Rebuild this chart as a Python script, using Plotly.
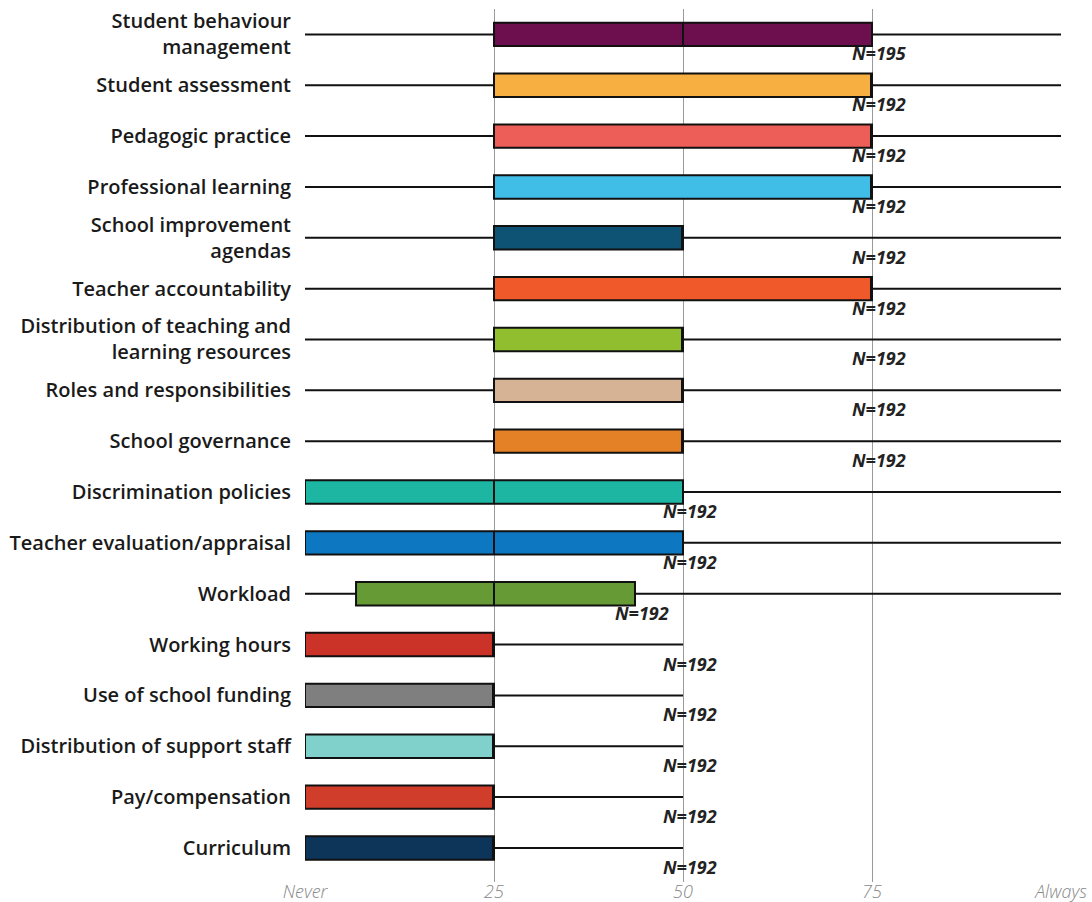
import plotly.graph_objects as go

categories = [
    "Student behaviour<br>management",
    "Student assessment",
    "Pedagogic practice",
    "Professional learning",
    "School improvement<br>agendas",
    "Teacher accountability",
    "Distribution of teaching and<br>learning resources",
    "Roles and responsibilities",
    "School governance",
    "Discrimination policies",
    "Teacher evaluation/appraisal",
    "Workload",
    "Working hours",
    "Use of school funding",
    "Distribution of support staff",
    "Pay/compensation",
    "Curriculum",
]
mins    = [0, 0, 0, 0, 0, 0, 0, 0, 0, 0, 0, 0, 0, 0, 0, 0, 0]
q1s     = [25, 25, 25, 25, 25, 25, 25, 25, 25, 0, 0, 6.75, 0, 0, 0, 0, 0]
medians = [50, 75, 75, 75, 50, 75, 50, 50, 50, 25, 25, 25, 25, 25, 25, 25, 25]
q3s     = [75, 75, 75, 75, 50, 75, 50, 50, 50, 50, 50, 43.65, 25, 25, 25, 25, 25]
maxs    = [100, 100, 100, 100, 100, 100, 100, 100, 100, 100, 100, 100, 50, 50, 50, 50, 50]
n_values = [195, 192, 192, 192, 192, 192, 192, 192, 192, 192, 192, 192, 192, 192, 192, 192, 192]
n_label_at = [75, 75, 75, 75, 75, 75, 75, 75, 75, 50, 50, 43.65, 50, 50, 50, 50, 50]
colors = [
    "#6D0F4E", "#F7AF42", "#EC5E57", "#40BEE8", "#0E5374", "#F05A2B",
    "#90BE2F", "#D6B394", "#E48025", "#1DB6A3", "#0D78C1", "#659A34",
    "#CC3328", "#7F7F7F", "#80D0CB", "#D13D2B", "#0D3559",
]
tick_vals = [0, 25, 50, 75, 100]
tick_text = ["Never", "25", "50", "75", "Always"]

fig = go.Figure()
for i, cat in enumerate(categories):
    fig.add_trace(go.Box(
        y=[cat], orientation="h",
        q1=[q1s[i]], median=[medians[i]], q3=[q3s[i]],
        lowerfence=[mins[i]], upperfence=[maxs[i]],
        fillcolor=colors[i],
        line=dict(color="#111111", width=2),
        whiskerwidth=0, width=0.46,
        boxpoints=False, hoverinfo="skip",
        showlegend=False,
    ))
    fig.add_annotation(
        x=n_label_at[i], y=cat, text=f"N={n_values[i]}",
        showarrow=False, xshift=7, yshift=-19,
        font=dict(family="Open Sans", size=18, color="#222222",
                  weight=700, style="italic"),
    )

fig.update_layout(
    width=1092, height=902,
    margin=dict(l=305, r=31, t=9, b=20, autoexpand=False),
    plot_bgcolor="white", paper_bgcolor="white",
    font=dict(family="Open Sans"),
)
fig.update_xaxes(
    range=[0, 100], tickvals=tick_vals, ticktext=tick_text,
    showgrid=True, gridcolor="#9a9a9a", gridwidth=1,
    zeroline=False, showline=False, automargin=False,
    tickfont=dict(family="Open Sans", size=18, color="#888888",
                  style="italic", weight=300),
    ticks="", ticklabelstandoff=-3, fixedrange=True,
)
fig.update_yaxes(
    type="category", categoryorder="array", categoryarray=categories,
    range=[16.67, -0.5], automargin=False,
    showgrid=False, zeroline=False, showline=False,
    tickfont=dict(family="Open Sans", size=20, color="#1a1a1a", weight=600),
    ticks="", ticklabelstandoff=13, fixedrange=True,
)

fig.write_html(
    "out.html",
    config={"displayModeBar": False},
    post_script="document.body.style.margin='0';document.body.style.overflow='hidden';",
)
